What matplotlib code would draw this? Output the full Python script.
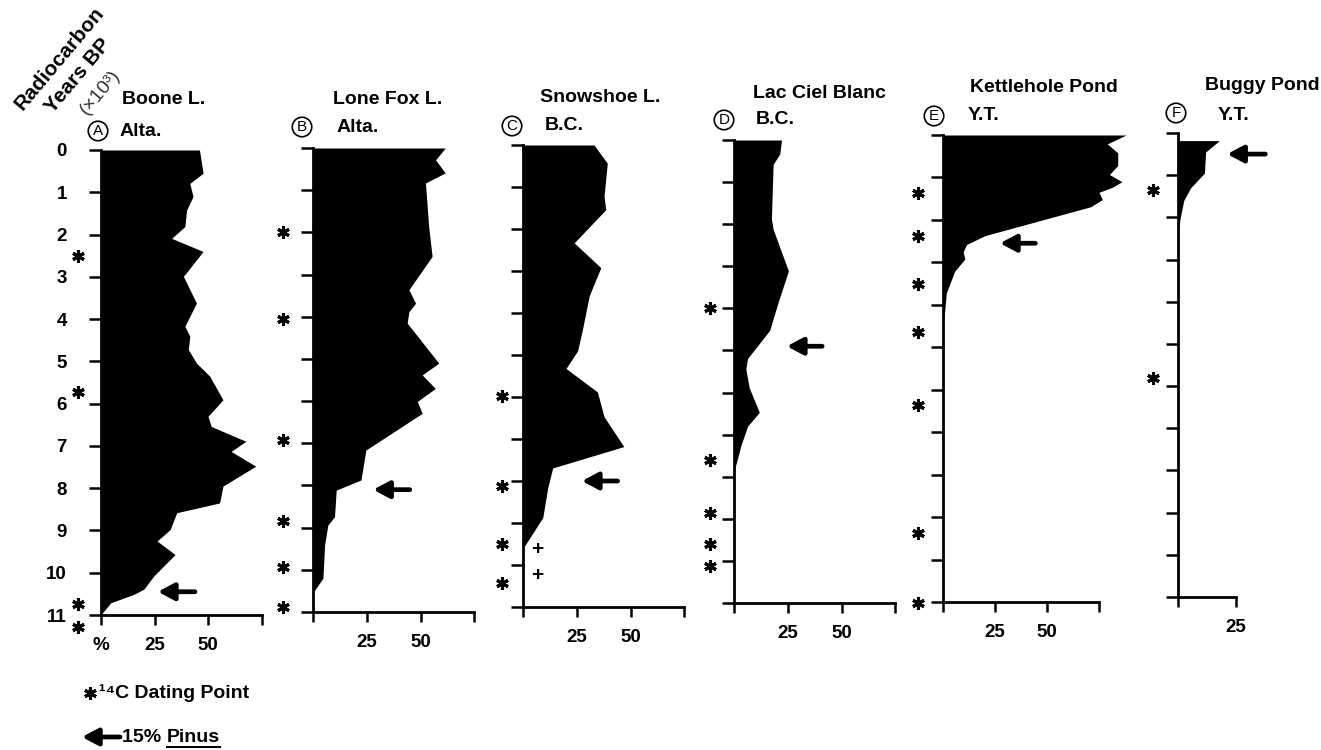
import matplotlib
matplotlib.use("Agg")
import matplotlib.pyplot as plt
from matplotlib.lines import Line2D

plt.rcParams['font.family'] = ['Liberation Sans', 'DejaVu Sans']
plt.rcParams['font.weight'] = 'bold'

W, H = 1321, 750
fig = plt.figure(figsize=(W / 100, H / 100), dpi=100)

# ---------------- data (age in 10^3 radiocarbon yr BP, Pinus %) ----------------
ages_A = [0, 0.55, 0.79, 1.1, 1.42, 1.81, 2.09, 2.4, 2.99, 3.62, 4.17, 4.41, 4.72, 5.04,
          5.35, 5.91, 6.3, 6.54, 6.89, 7.13, 7.48, 7.95, 8.35, 8.58, 8.98, 9.25, 9.57,
          10.08, 10.39, 10.51, 10.71, 10.94]
pinus_A = [46, 47.7, 41.5, 43, 40, 39.2, 33, 47.7, 38.5, 44.6, 39.2, 41.5, 40.8, 44.6,
           50.8, 57, 50, 51.5, 67.7, 60.8, 72.3, 57, 55.4, 35.4, 32.3, 26.2, 34.6,
           24.6, 20, 15.4, 4.6, 0.8]

ages_B = [0, 0.28, 0.59, 0.83, 1.86, 2.57, 3.36, 3.68, 3.88, 4.15, 5.1, 5.38, 5.7, 6.01,
          6.29, 7.16, 7.87, 8.11, 8.74, 8.94, 9.41, 10.2, 10.48]
pinus_B = [61.5, 57, 61.5, 52.3, 53.8, 55.4, 44.6, 47.7, 44.6, 43.8, 58.5, 50.8, 56.9, 48.5,
           50.8, 24.6, 22.3, 10.8, 10, 6.9, 5.4, 4.6, 0.8]

ages_C = [0, 0.43, 1.22, 1.54, 2.33, 2.92, 3.59, 4.38, 4.9, 5.32, 5.88, 6.47, 7.18, 7.69,
          8.16, 8.87, 9.54]
pinus_C = [33, 39.2, 37.7, 38.5, 23.8, 36.2, 30.8, 27.7, 25.4, 20, 34.6, 37.7, 46.9, 13.8,
           11.5, 9.2, 0.8]

ages_D = [0, 0.33, 0.58, 1.87, 2.12, 3.11, 3.86, 4.52, 4.73, 5.19, 5.44, 5.89, 6.47, 6.8,
          7.26, 7.88]
pinus_D = [22.1, 21.3, 18.2, 17.4, 18.2, 25.3, 20.5, 16.6, 13.4, 6.3, 5.5, 7.1, 11.8, 6.3,
           3.2, 0]

ages_E = [0, 0.21, 0.42, 0.72, 0.93, 1.1, 1.23, 1.35, 1.52, 1.69, 2.37, 2.58, 2.75, 2.92,
          3.21, 3.72, 4.15, 4.48]
pinus_E = [88, 79, 84, 84, 80, 86, 81.5, 75, 76.6, 71, 20.2, 11.3, 9.7, 10.5,
           5.6, 1.6, 0.8, 0]

ages_F = [0.18, 0.18, 0.45, 0.95, 1.3, 1.6, 2.0, 2.4]
pinus_F = [0, 18, 12, 11.5, 5.5, 2.5, 1, 0]

# 14C dating points (ages)
dates_A = [2.5, 5.72, 10.73, 11.28]
dates_B = [2.0, 4.05, 6.93, 8.85, 9.93, 10.88]
dates_C = [5.98, 8.11, 9.49, 10.44]
dates_D = [4.0, 7.6, 8.86, 9.6, 10.12]
dates_E = [1.36, 2.39, 3.52, 4.63, 6.35, 9.38, 11.03]
dates_F = [1.35, 5.8]

# 15% Pinus level (age) marked by arrows
pinus15_age = {'A': 10.45, 'B': 8.1, 'C': 8.0, 'D': 4.9, 'E': 2.55, 'F': 0.5}
plus_C = [9.62, 10.25]

site_names = {'A': 'Boone L.', 'B': 'Lone Fox L.', 'C': 'Snowshoe L.',
              'D': 'Lac Ciel Blanc', 'E': 'Kettlehole Pond', 'F': 'Buggy Pond'}
provinces = {'A': 'Alta.', 'B': 'Alta.', 'C': 'B.C.', 'D': 'B.C.', 'E': 'Y.T.', 'F': 'Y.T.'}
age_ticks = list(range(12))
age_ticklabels = [str(a) for a in age_ticks]

series = {'A': (ages_A, pinus_A, dates_A), 'B': (ages_B, pinus_B, dates_B),
          'C': (ages_C, pinus_C, dates_C), 'D': (ages_D, pinus_D, dates_D),
          'E': (ages_E, pinus_E, dates_E), 'F': (ages_F, pinus_F, dates_F)}

# ---------------- layout (pixels) ----------------
layout = {
    'A': dict(x0=101, y0=150, y11=615, ppp=2.14, xmax=75, star=-23, arr=(26.6, 43.9)),
    'B': dict(x0=313, y0=148, y11=612, ppp=2.15, xmax=75, star=-30, arr=(28, 45)),
    'C': dict(x0=523, y0=145, y11=607, ppp=2.15, xmax=75, star=-21, arr=(27.4, 44)),
    'D': dict(x0=734, y0=140, y11=603, ppp=2.15, xmax=75, star=-24, arr=(24.6, 41)),
    'E': dict(x0=943, y0=135, y11=602, ppp=2.08, xmax=75, star=-25, arr=(27.4, 44.4)),
    'F': dict(x0=1178, y0=133, y11=597, ppp=2.3, xmax=25, star=-25, arr=(21.4, 38)),
}
titles_px = {
    'A': dict(t1=(122, 100), circ=(98, 131), t2=(120, 131)),
    'B': dict(t1=(333, 99), circ=(302, 127), t2=(337, 127)),
    'C': dict(t1=(540, 98), circ=(512, 126), t2=(545, 126)),
    'D': dict(t1=(753, 93), circ=(724, 120), t2=(756, 120)),
    'E': dict(t1=(970, 88), circ=(934, 116), t2=(968, 116)),
    'F': dict(t1=(1205, 86), circ=(1176, 113), t2=(1218, 116)),
}


def fx(x):
    return x / W


def fy(y):
    return 1 - y / H


for key in ['A', 'B', 'C', 'D', 'E', 'F']:
    L = layout[key]
    ages, pin, dates = series[key]
    ax = fig.add_axes([fx(L['x0']), fy(L['y11']), L['xmax'] * L['ppp'] / W,
                       (L['y11'] - L['y0']) / H])
    ax.patch.set_visible(False)
    ax.set_xlim(0, L['xmax'])
    ax.set_ylim(11, 0)
    ax.spines['top'].set_visible(False)
    ax.spines['right'].set_visible(False)
    for s in ['left', 'bottom']:
        ax.spines[s].set_linewidth(2)
    ax.set_yticks(age_ticks)
    if key == 'A':
        ax.set_yticklabels(age_ticklabels, fontsize=13.5, fontweight='bold')
    else:
        ax.set_yticklabels([])
    xt = list(range(0, L['xmax'] + 1, 25))
    ax.set_xticks(xt)
    if key == 'A':
        xl = ['%', '25', '50', '']
    elif key == 'F':
        xl = ['', '25']
    else:
        xl = ['', '25', '50', '']
    ax.set_xticklabels(xl, fontsize=13.5, fontweight='bold')
    ax.tick_params(axis='y', direction='out', length=8.5, width=1.8, pad=16)
    ax.tick_params(axis='x', direction='out', length=7, width=1.8, pad=9)

    ax.fill_betweenx(ages, 0, pin, color='black', lw=0, clip_on=False, zorder=3)

    sx = L['star'] / L['ppp']
    ax.plot([sx] * len(dates), dates, ls='none', marker=(6, 2, 0), ms=9, mew=2.2,
            color='black', clip_on=False)

    a0, a1 = L['arr']
    ax.annotate('', xy=(a0, pinus15_age[key]), xytext=(a1, pinus15_age[key]),
                annotation_clip=False,
                arrowprops=dict(arrowstyle='-|>,head_length=0.6,head_width=0.32',
                                lw=3.4, color='black', mutation_scale=16,
                                shrinkA=0, shrinkB=0))
    if key == 'C':
        for a in plus_C:
            ax.text(6.5, a, '+', fontsize=15, fontweight='bold', ha='center',
                    va='center', clip_on=False)

    T = titles_px[key]
    fig.text(fx(T['t1'][0]), fy(T['t1'][1]), site_names[key], fontsize=14,
             fontweight='bold', ha='left', va='center')
    fig.text(fx(T['t2'][0]), fy(T['t2'][1]), provinces[key], fontsize=14,
             fontweight='bold', ha='left', va='center')
    fig.text(fx(T['circ'][0]), fy(T['circ'][1]), key, fontsize=11, fontweight='normal',
             ha='center', va='center',
             bbox=dict(boxstyle='circle,pad=0.18', fc='white', ec='black', lw=1.2))

# y-axis title (rotated)
fig.text(fx(60), fy(58), 'Radiocarbon', rotation=50, fontsize=15, fontweight='bold',
         ha='center', va='center', rotation_mode='anchor')
fig.text(fx(78), fy(76), 'Years BP', rotation=50, fontsize=15, fontweight='bold',
         ha='center', va='center', rotation_mode='anchor')
fig.text(fx(100), fy(92), '(×10³)', rotation=50, fontsize=14, fontweight='normal',
         ha='center', va='center', rotation_mode='anchor', color='#333333')

# legend
fig.add_artist(Line2D([fx(90)], [fy(693)], ls='none', marker=(6, 2, 0), ms=9, mew=2.2,
                      color='black', transform=fig.transFigure))
fig.text(fx(99), fy(693), '¹⁴C Dating Point', fontsize=14, fontweight='bold',
         ha='left', va='center')
fig.add_artist(matplotlib.patches.FancyArrowPatch(
    (fx(120), fy(737)), (fx(82), fy(737)), transform=fig.transFigure,
    arrowstyle='-|>,head_length=0.6,head_width=0.32', lw=3.4, color='black',
    mutation_scale=16, shrinkA=0, shrinkB=0))
t15 = fig.text(fx(122), fy(737), '15% ', fontsize=14, fontweight='bold',
               ha='left', va='center')
fig.canvas.draw()
r = fig.canvas.get_renderer()
bb = t15.get_window_extent(r)
tp = fig.text(bb.x1 / W, fy(737), 'Pinus', fontsize=14, fontweight='bold',
              ha='left', va='center')
fig.canvas.draw()
bp = tp.get_window_extent(r)
fig.add_artist(Line2D([bp.x0 / W, bp.x1 / W], [(bp.y0 - 1) / H, (bp.y0 - 1) / H],
                      color='black', lw=1.5, transform=fig.transFigure))

fig.savefig('out.png', dpi=100, facecolor='white')
